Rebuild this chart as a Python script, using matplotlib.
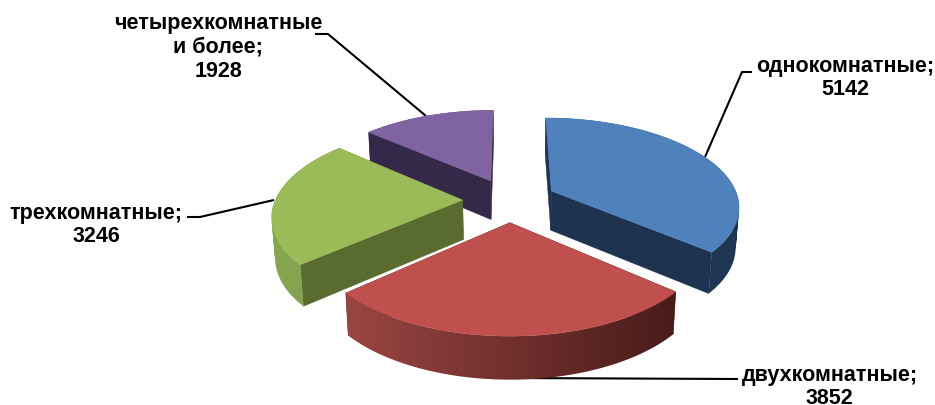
import numpy as np
import matplotlib
matplotlib.use("Agg")
import matplotlib.pyplot as plt
from matplotlib.colors import to_rgb
from matplotlib.patches import Polygon, PathPatch
from matplotlib.path import Path

categories = ["однокомнатные", "двухкомнатные", "трехкомнатные", "четырехкомнатные\nи более"]
values = [5142, 3852, 3246, 1928]

top_colors = ["#4f81bd", "#bf504d", "#9bbb59", "#8064a2"]
face_colors = ["#1e334f", "#4a1d1b", "#5a6b30", "#35294a"]
arc_left = ["#1f3654", "#9a4542", "#88a751", "#35294a"]
arc_right = ["#1f3654", "#481b19", "#7f9c4a", "#35294a"]

label_xy = [(845, 78), (829.5, 387), (96, 225), (218, 47.5)]
leaders = [
    [(705, 157), (742, 72), (752, 72)],
    [(510, 378), (738, 379)],
    [(274, 200), (200, 217), (187, 217)],
    [(426, 116), (328, 34), (315, 34)],
]

CX, CY, A, B, D, EXPLODE = 509.5, 200.0, 1180.0, 550.0, 6.3, 0.25


def project(x, y, z=0.0):
    """Perspective projection; z=1 is the bottom of the slab."""
    sx = A * x / (D + y)
    sy = B * y / (D + y)
    depth = 39.5 - 3.2 * y
    return CX + sx * (1 - 0.015 * z), CY - sy + depth * z


def oriented_quads(top, bot):
    """Compound path of same-orientation quads, so its union fills without gaps."""
    paths = []
    for k in range(len(top) - 1):
        q = np.array([top[k], top[k + 1], bot[k + 1], bot[k]])
        x, y = q[:, 0], q[:, 1]
        area = np.sum(x * np.roll(y, -1) - np.roll(x, -1) * y)
        if area < 0:
            q = q[::-1]
        paths.append(Path(np.vstack([q, q[:1]]), closed=True))
    return Path.make_compound_path(*paths)


fig = plt.figure(figsize=(9.35, 4.05), dpi=100)
ax = fig.add_axes([0, 0, 1, 1])

for pts in leaders:
    ax.plot(*zip(*pts), color="black", lw=1.5, zorder=1, solid_capstyle="butt")

vals = np.array(values, dtype=float)
edges = np.concatenate([[0], np.cumsum(vals) / vals.sum() * 2 * np.pi])

# painter's order: far slices first
order = [3, 0, 2, 1]
z = 2
for i in order:
    a0, a1 = edges[i], edges[i + 1]
    mid = (a0 + a1) / 2
    ox, oy = EXPLODE * np.sin(mid), EXPLODE * np.cos(mid)
    th = np.linspace(a0, a1, 160)
    px = ox + np.sin(th)
    py = oy + np.cos(th)
    top_arc = [project(x, y) for x, y in zip(px, py)]
    bot_arc = [project(x, y, 1) for x, y in zip(px, py)]
    apex_t, apex_b = project(ox, oy), project(ox, oy, 1)
    face = face_colors[i]
    # radial faces
    for tp, bp in ((top_arc[0], bot_arc[0]), (top_arc[-1], bot_arc[-1])):
        ax.add_patch(Polygon([apex_t, tp, bp, apex_b], closed=True, fc=face, ec=face, lw=0.3, zorder=z))
    # outer wall: horizontal gradient clipped to the wall outline
    wall = PathPatch(oriented_quads(top_arc, bot_arc), fc="none", ec="none", zorder=z + 1)
    ax.add_patch(wall)
    all_pts = np.array(top_arc + bot_arc)
    wx, wy = all_pts[:, 0], all_pts[:, 1]
    c0, c1 = np.array(to_rgb(arc_left[i])), np.array(to_rgb(arc_right[i]))
    t = np.linspace(0, 1, 256)[:, None]
    grad = (c0[None, :] * (1 - t) + c1[None, :] * t)[None, :, :]
    im = ax.imshow(grad, extent=(wx.min(), wx.max(), wy.max(), wy.min()), aspect="auto",
                   interpolation="bilinear", zorder=z + 1)
    im.set_clip_path(wall)
    # top surface
    ax.add_patch(Polygon([apex_t] + top_arc, closed=True, fc=top_colors[i], ec=top_colors[i], lw=0.3, zorder=z + 2))
    z += 3

for name, val, (x, y) in zip(categories, values, label_xy):
    ax.text(x, y, f"{name};\n{val}", ha="center", va="center", fontsize=15.5, fontweight="bold",
            family="Liberation Sans", color="black", linespacing=1.16, zorder=30)

ax.set_xlim(0, 935)
ax.set_ylim(405, 0)
ax.axis("off")
fig.savefig("out.png", dpi=100, facecolor="white")
